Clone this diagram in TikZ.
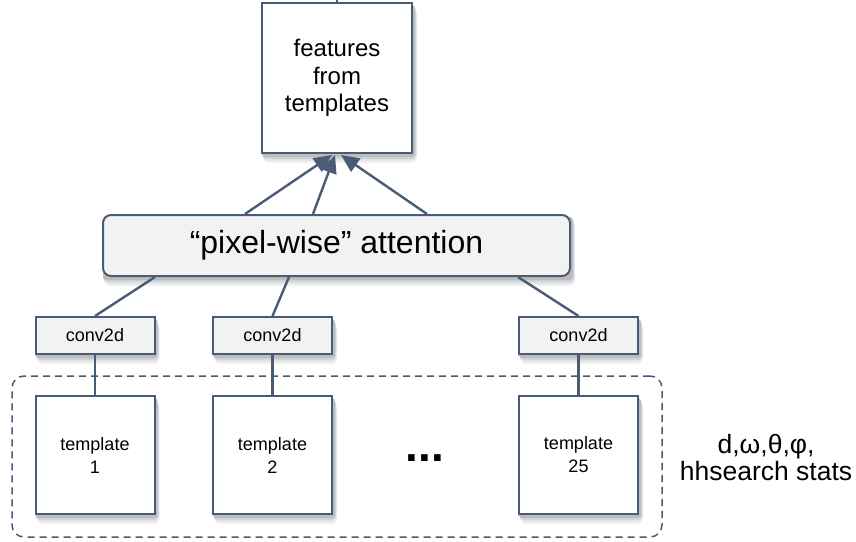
\documentclass[tikz,border=0pt]{standalone}
\usepackage{fontspec}
\setmainfont{Liberation Sans}
\usetikzlibrary{arrows.meta,backgrounds}
\definecolor{edgecol}{HTML}{4A5B75}
\definecolor{boxfill}{HTML}{F2F2F2}
\begin{document}
\begin{tikzpicture}[x=1pt,y=-1pt,
  box/.style={draw=edgecol, line width=2pt, inner sep=0pt, align=center},
  featbox/.style={box, fill=white, minimum width=150pt, minimum height=150pt, font=\fontsize{24}{27.5}\selectfont},
  attbox/.style={box, fill=boxfill, rounded corners=8pt, minimum width=467pt, minimum height=61pt, font=\fontsize{32}{38}\selectfont},
  convbox/.style={box, fill=boxfill, minimum width=119pt, minimum height=37pt, font=\fontsize{18}{22}\selectfont},
  tmplbox/.style={box, fill=white, minimum width=119pt, minimum height=118pt, font=\fontsize{18}{23}\selectfont},
  group/.style={draw=edgecol, line width=1.5pt, dash pattern=on 7pt off 5pt, rounded corners=12pt, minimum width=650pt, minimum height=161pt, inner sep=0pt},
  link/.style={draw=edgecol, line width=2.4pt},
  arr/.style={link, -{Triangle[length=18pt,width=16pt]}}
]
\useasboundingbox (0,0) rectangle (856,541);

\node[group] (grp) at (337,456.5) {};

\node[featbox] (feat) at (337,78) {features\\from\\templates};
\coordinate (out) at (337,0);
\draw[link] (feat.north) -- (out);

\node[attbox] (att) at (336.5,245.5) {“pixel-wise” attention};

\node[convbox] (c1) at (95,335.5) {conv2d};
\node[convbox] (c2) at (272.5,335.5) {conv2d};
\node[convbox] (c3) at (578.5,335.5) {conv2d};

\node[tmplbox] (t1) at (95,455) {template\\1};
\node[tmplbox] (t2) at (272.5,455) {template\\2};
\node[tmplbox] (t3) at (578.5,455) {template\\25};

\begin{scope}[on background layer]
\foreach \nm in {feat,att,c1,c2,c3,t1,t2,t3} {
  \fill[black!5, rounded corners=6pt] ([xshift=2pt,yshift=-9pt]\nm.north west) rectangle ([xshift=4pt,yshift=-9pt]\nm.south east);
  \fill[black!10, rounded corners=5pt] ([xshift=2pt,yshift=-7pt]\nm.north west) rectangle ([xshift=3.5pt,yshift=-7pt]\nm.south east);
  \fill[black!17, rounded corners=4pt] ([xshift=1.5pt,yshift=-5pt]\nm.north west) rectangle ([xshift=3pt,yshift=-5pt]\nm.south east);
  \fill[black!26, rounded corners=3pt] ([xshift=1pt,yshift=-3pt]\nm.north west) rectangle ([xshift=2pt,yshift=-3pt]\nm.south east);
}
\end{scope}

\node[font=\fontsize{46}{46}\selectfont\bfseries, inner sep=0pt, anchor=base] (dots) at (425,461) {...};

\node[font=\fontsize{26.5}{27}\selectfont, align=center, inner sep=0pt] (stats) at (766,458) {d,ω,θ,φ,\\hhsearch stats};

\draw[arr] ([xshift=-91.5pt]att.north) -- ([xshift=-5pt,yshift=-1pt]feat.south);
\draw[arr] ([xshift=-23.5pt]att.north) -- ([xshift=-2pt,yshift=-1pt]feat.south);
\draw[arr] ([xshift=90.5pt]att.north) -- ([xshift=4pt,yshift=-1pt]feat.south);

\draw[link] ([xshift=-181.5pt]att.south) -- (c1.north);
\draw[link] ([xshift=-47.5pt]att.south) -- (c2.north);
\draw[link] ([xshift=181.5pt]att.south) -- (c3.north);

\draw[link] (c1.south) -- (t1.north);
\draw[link] (c2.south) -- (t2.north);
\draw[link] (c3.south) -- (t3.north);
\end{tikzpicture}
\end{document}
